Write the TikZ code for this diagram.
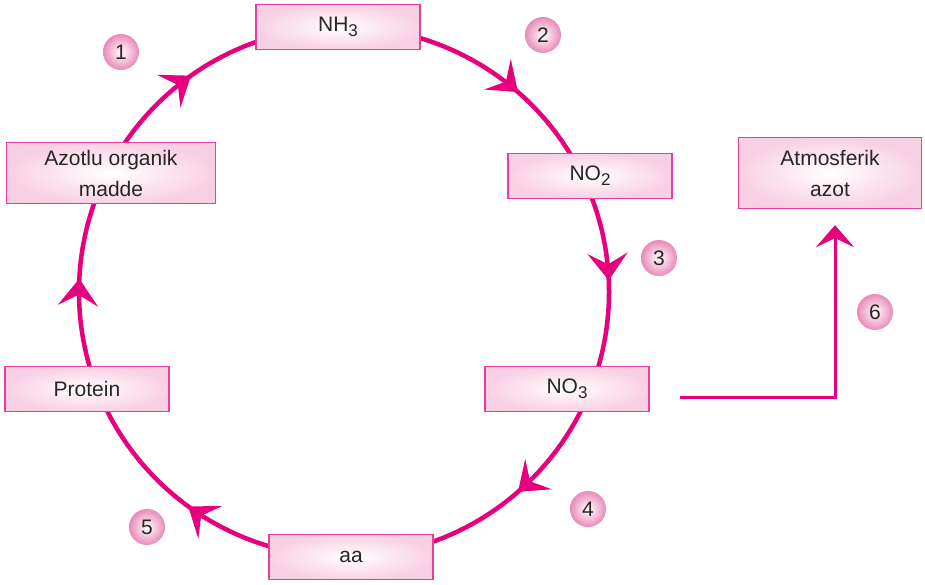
\documentclass[tikz,border=0pt]{standalone}
\usepackage{fontspec}
\setmainfont{Liberation Sans}
\usetikzlibrary{calc}
\usetikzlibrary{backgrounds}
\usetikzlibrary{arrows.meta}
\usetikzlibrary{decorations.markings}
\usetikzlibrary{positioning}
\definecolor{mag}{HTML}{E6007E}
\definecolor{boxline}{HTML}{E8409A}
\definecolor{boxfill}{HTML}{F8D0E3}
\definecolor{ballpink}{HTML}{E98AB9}
\newcommand{\chemsub}[1]{\raisebox{-5pt}{\fontsize{17}{17}\selectfont #1}}
\tikzset{box/.style={rectangle,draw=boxline,line width=1.3pt,shading=radial,inner color=white,outer color=boxfill,minimum width=164pt,minimum height=45pt,text=black!85,font=\fontsize{21}{31}\selectfont,align=center}}
\tikzset{num/.style={circle,minimum size=36pt,inner sep=0pt,shading=radial,inner color=white,outer color=ballpink,text=black!85,font=\fontsize{21}{25}\selectfont}}
\tikzset{cycletip/.tip={Stealth[length=27pt,width=40pt,inset=11pt]}}

\begin{document}
\begin{tikzpicture}[x=1pt,y=1pt]
\useasboundingbox (0,0) rectangle (925,584);
\coordinate (ctr) at (344,292);
\node[box] (nh3) at (338,557) {NH\chemsub{3}};
\node[box] (no2) at (590,408) {NO\chemsub{2}};
\node[box] (no3) at (567,195) {NO\chemsub{3}};
\node[box] (aa) at (351,27) {aa};
\node[box] (prot) at (87,195) {Protein};
\node[box,minimum width=209pt,minimum height=61pt] (azot) at (111,411) {Azotlu organik\\madde};
\node[box,minimum width=183pt,minimum height=71pt] (atm) at (830,411) {Atmosferik\\azot};
%numbers
\foreach \n/\x/\y in {1/121/532,2/543/549,3/659/326,4/588/75,5/147/57,6/875/272}
  \node[num] (n\n) at (\x,\y) {\n};
%cycle
\begin{scope}[on background layer]
\draw[mag,line width=4.5pt,postaction={decorate},
  decoration={markings,
    mark=at position 0.114 with {\arrow{cycletip}},
    mark=at position 0.243 with {\arrow{cycletip}},
    mark=at position 0.386 with {\arrow{cycletip}},
    mark=at position 0.600 with {\arrow{cycletip}},
    mark=at position 0.758 with {\arrow{cycletip}},
    mark=at position 0.902 with {\arrow{cycletip}}}]
  (ctr) ++(90:265) arc[start angle=90,end angle=-270,radius=265];
\end{scope}
%to atmosphere
\coordinate (src) at (680,187);
\draw[mag,line width=3pt,-{Stealth[length=22pt,width=38pt,inset=9pt]},shorten >=16pt] (src) -| ([xshift=5pt]atm.south);
\end{tikzpicture}
\end{document}
